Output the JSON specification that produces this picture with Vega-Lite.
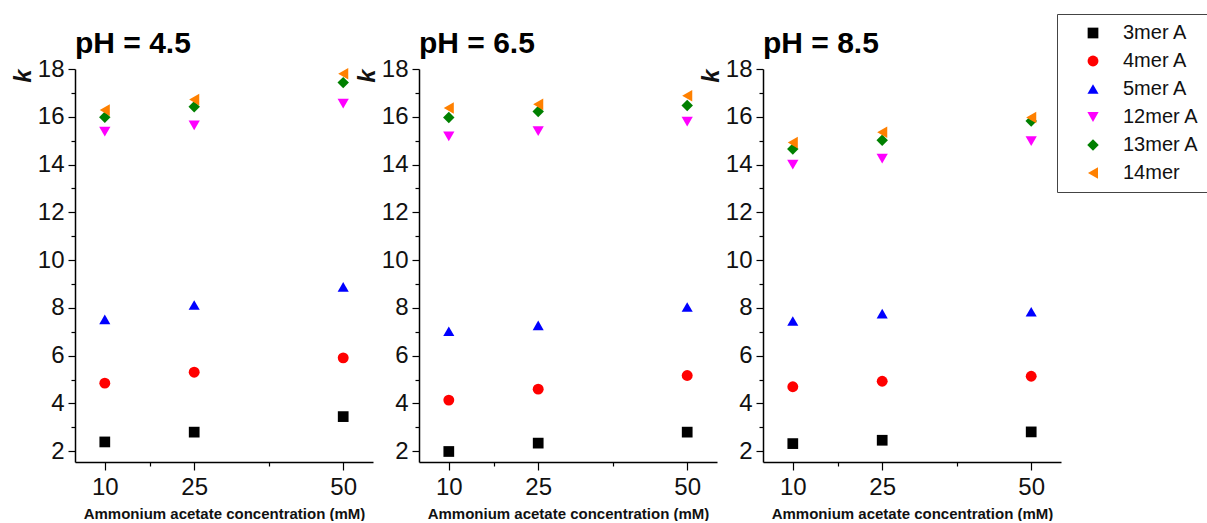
{
  "$schema": "https://vega.github.io/schema/vega-lite/v6.json",
  "background": "white",
  "padding": {"left": 11, "top": 13, "right": 0, "bottom": 0},
  "data": {"values": [
    {"pH": "pH = 4.5", "conc": 10, "series": "3mer A", "k": 2.39},
    {"pH": "pH = 4.5", "conc": 25, "series": "3mer A", "k": 2.8},
    {"pH": "pH = 4.5", "conc": 50, "series": "3mer A", "k": 3.45},
    {"pH": "pH = 6.5", "conc": 10, "series": "3mer A", "k": 1.99},
    {"pH": "pH = 6.5", "conc": 25, "series": "3mer A", "k": 2.34},
    {"pH": "pH = 6.5", "conc": 50, "series": "3mer A", "k": 2.8},
    {"pH": "pH = 8.5", "conc": 10, "series": "3mer A", "k": 2.32},
    {"pH": "pH = 8.5", "conc": 25, "series": "3mer A", "k": 2.46},
    {"pH": "pH = 8.5", "conc": 50, "series": "3mer A", "k": 2.81},
    {"pH": "pH = 4.5", "conc": 10, "series": "4mer A", "k": 4.85},
    {"pH": "pH = 4.5", "conc": 25, "series": "4mer A", "k": 5.31},
    {"pH": "pH = 4.5", "conc": 50, "series": "4mer A", "k": 5.91},
    {"pH": "pH = 6.5", "conc": 10, "series": "4mer A", "k": 4.14},
    {"pH": "pH = 6.5", "conc": 25, "series": "4mer A", "k": 4.6},
    {"pH": "pH = 6.5", "conc": 50, "series": "4mer A", "k": 5.17},
    {"pH": "pH = 8.5", "conc": 10, "series": "4mer A", "k": 4.7},
    {"pH": "pH = 8.5", "conc": 25, "series": "4mer A", "k": 4.93},
    {"pH": "pH = 8.5", "conc": 50, "series": "4mer A", "k": 5.14},
    {"pH": "pH = 4.5", "conc": 10, "series": "5mer A", "k": 7.52},
    {"pH": "pH = 4.5", "conc": 25, "series": "5mer A", "k": 8.12},
    {"pH": "pH = 4.5", "conc": 50, "series": "5mer A", "k": 8.88},
    {"pH": "pH = 6.5", "conc": 10, "series": "5mer A", "k": 7.02},
    {"pH": "pH = 6.5", "conc": 25, "series": "5mer A", "k": 7.27},
    {"pH": "pH = 6.5", "conc": 50, "series": "5mer A", "k": 8.04},
    {"pH": "pH = 8.5", "conc": 10, "series": "5mer A", "k": 7.45},
    {"pH": "pH = 8.5", "conc": 25, "series": "5mer A", "k": 7.76},
    {"pH": "pH = 8.5", "conc": 50, "series": "5mer A", "k": 7.84},
    {"pH": "pH = 4.5", "conc": 10, "series": "12mer A", "k": 15.38},
    {"pH": "pH = 4.5", "conc": 25, "series": "12mer A", "k": 15.64},
    {"pH": "pH = 4.5", "conc": 50, "series": "12mer A", "k": 16.55},
    {"pH": "pH = 6.5", "conc": 10, "series": "12mer A", "k": 15.18},
    {"pH": "pH = 6.5", "conc": 25, "series": "12mer A", "k": 15.4},
    {"pH": "pH = 6.5", "conc": 50, "series": "12mer A", "k": 15.8},
    {"pH": "pH = 8.5", "conc": 10, "series": "12mer A", "k": 14.0},
    {"pH": "pH = 8.5", "conc": 25, "series": "12mer A", "k": 14.25},
    {"pH": "pH = 8.5", "conc": 50, "series": "12mer A", "k": 14.98},
    {"pH": "pH = 4.5", "conc": 10, "series": "13mer A", "k": 15.98},
    {"pH": "pH = 4.5", "conc": 25, "series": "13mer A", "k": 16.42},
    {"pH": "pH = 4.5", "conc": 50, "series": "13mer A", "k": 17.43},
    {"pH": "pH = 6.5", "conc": 10, "series": "13mer A", "k": 15.97},
    {"pH": "pH = 6.5", "conc": 25, "series": "13mer A", "k": 16.22},
    {"pH": "pH = 6.5", "conc": 50, "series": "13mer A", "k": 16.47},
    {"pH": "pH = 8.5", "conc": 10, "series": "13mer A", "k": 14.65},
    {"pH": "pH = 8.5", "conc": 25, "series": "13mer A", "k": 15.02},
    {"pH": "pH = 8.5", "conc": 50, "series": "13mer A", "k": 15.82},
    {"pH": "pH = 4.5", "conc": 10, "series": "14mer", "k": 16.28},
    {"pH": "pH = 4.5", "conc": 25, "series": "14mer", "k": 16.72},
    {"pH": "pH = 4.5", "conc": 50, "series": "14mer", "k": 17.8},
    {"pH": "pH = 6.5", "conc": 10, "series": "14mer", "k": 16.37},
    {"pH": "pH = 6.5", "conc": 25, "series": "14mer", "k": 16.52},
    {"pH": "pH = 6.5", "conc": 50, "series": "14mer", "k": 16.88},
    {"pH": "pH = 8.5", "conc": 10, "series": "14mer", "k": 14.92},
    {"pH": "pH = 8.5", "conc": 25, "series": "14mer", "k": 15.35},
    {"pH": "pH = 8.5", "conc": 50, "series": "14mer", "k": 15.97}
  ]},
  "facet": {
    "column": {
      "field": "pH", "type": "nominal", "sort": ["pH = 4.5", "pH = 6.5", "pH = 8.5"], "title": null,
      "header": {
        "labelFont": "Liberation Sans", "labelFontSize": 30, "labelFontWeight": "bold",
        "labelColor": "black", "labelAnchor": "start", "labelAlign": "left", "labelPadding": 10
      }
    }
  },
  "spacing": 46,
  "bounds": "flush",
  "resolve": {"axis": {"y": "independent", "x": "independent"}},
  "spec": {
    "width": 298,
    "height": 393,
    "mark": {"type": "point", "filled": true, "opacity": 1, "strokeWidth": 0},
    "encoding": {
      "x": {
        "field": "conc", "type": "quantitative",
        "scale": {"domain": [5, 55], "nice": false, "zero": false},
        "axis": {
          "title": "Ammonium acetate concentration (mM)",
          "values": [10, 17.5, 25, 37.5, 50],
          "labelExpr": "datum.value === 17.5 || datum.value === 37.5 ? '' : datum.label",
          "tickSize": {"condition": {"test": "datum.value === 17.5 || datum.value === 37.5", "value": 4}, "value": 8},
          "labelFontSize": 24, "labelPadding": 5,
          "titleFontSize": 15, "titleFontWeight": "bold", "titlePadding": 7
        }
      },
      "y": {
        "field": "k", "type": "quantitative",
        "scale": {"domain": [1.55, 18], "nice": false, "zero": false},
        "axis": {
          "title": "k",
          "values": [2, 3, 4, 5, 6, 7, 8, 9, 10, 11, 12, 13, 14, 15, 16, 17, 18],
          "labelExpr": "datum.value % 2 === 0 ? datum.label : ''",
          "tickSize": {"condition": {"test": "datum.value % 2 === 1", "value": 4}, "value": 7},
          "labelFontSize": 24, "labelPadding": 4,
          "titleFontSize": 24, "titleFontWeight": "bold", "titleFontStyle": "italic",
          "titleAnchor": "end", "titlePadding": 2
        }
      },
      "shape": {
        "field": "series", "type": "nominal",
        "scale": {
          "domain": ["3mer A", "4mer A", "5mer A", "12mer A", "13mer A", "14mer"],
          "range": ["square", "circle", "triangle-up", "triangle-down", "diamond", "triangle-left"]
        }
      },
      "size": {
        "field": "series", "type": "nominal",
        "scale": {
          "domain": ["3mer A", "4mer A", "5mer A", "12mer A", "13mer A", "14mer"],
          "range": [115, 135, 200, 200, 190, 200]
        },
        "legend": null
      },
      "color": {
        "field": "series", "type": "nominal",
        "scale": {
          "domain": ["3mer A", "4mer A", "5mer A", "12mer A", "13mer A", "14mer"],
          "range": ["#000000", "#FF0000", "#0000FF", "#FF00FF", "#008000", "#FF8000"]
        },
        "legend": {
          "orient": "none", "legendX": 982, "legendY": -55
        }
      }
    }
  },
  "config": {
    "view": {"stroke": null},
    "font": "Liberation Sans",
    "axis": {
      "grid": false, "domainColor": "black", "domainWidth": 1.5,
      "tickColor": "black", "tickWidth": 1.2,
      "labelColor": "#111", "titleColor": "#111",
      "labelFont": "Liberation Sans", "titleFont": "Liberation Sans"
    },
    "legend": {
      "title": null, "strokeColor": "#444", "fillColor": "white", "padding": 9,
      "labelFontSize": 20, "labelFont": "Liberation Sans", "labelColor": "#111",
      "symbolSize": 140, "rowPadding": 8, "symbolOffset": 17, "labelOffset": 20,
      "symbolStrokeWidth": 0
    }
  }
}
